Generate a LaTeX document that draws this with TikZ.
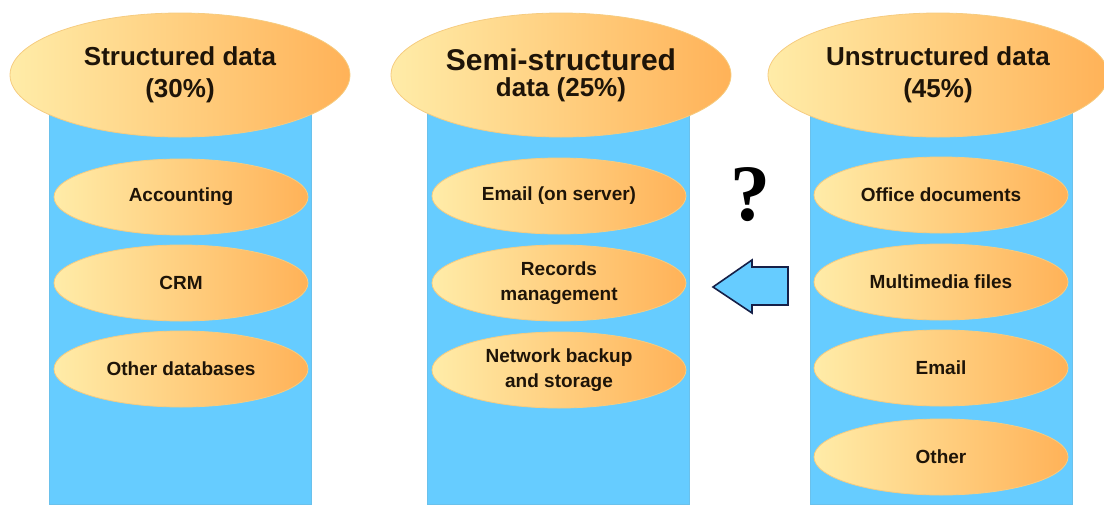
\documentclass[tikz,border=0pt]{standalone}
\usepackage{fontspec}
\setmainfont{Liberation Sans}
\newfontfamily\qfont{Liberation Serif}
\usetikzlibrary{shapes}

\definecolor{sky}{RGB}{102,204,255}
\definecolor{pale}{RGB}{255,236,168}
\definecolor{amber}{RGB}{255,178,88}
\definecolor{rim}{RGB}{246,204,128}
\definecolor{ink}{RGB}{30,20,8}
\definecolor{navy}{RGB}{22,32,72}

\begin{document}
\begin{tikzpicture}[x=1pt, y=-1pt, align=center, text=ink,
  col/.style={rectangle, fill=sky, draw=sky!85!gray, minimum width=262pt,
    minimum height=394pt, inner sep=0pt},
  head/.style={ellipse, left color=pale, right color=amber, draw=rim,
    line width=0.8pt, minimum width=340pt, minimum height=124pt, inner sep=0pt,
    font=\bfseries\fontsize{26}{32}\selectfont},
  item/.style={ellipse, left color=pale, right color=amber, draw=rim,
    line width=0.8pt, minimum width=254pt, minimum height=76pt, inner sep=0pt,
    font=\bfseries\fontsize{19}{25}\selectfont}]
\useasboundingbox (0,0) rectangle (1104,504);

% the three columns
\node[col] (c1) at (180,307) {};
\node[col] (c2) at (558,307) {};
\node[col] (c3) at (941,307) {};

\node[head] (h1) at (180,75) {Structured data\\(30\%)};
\node[head] (h2) at (561,75) {{\fontsize{30}{30}\selectfont Semi-structured}\\[-6pt]data (25\%)};
\node[head] (h3) at (938,75) {Unstructured data\\(45\%)};

% structured
\node[item] (11) at (181,197) {Accounting};
\node[item] (12) at (181,283) {CRM};
\node[item] (13) at (181,369) {Other databases};

% semi-structured
\node[item] (21) at (559,196) {Email (on server)};
\node[item] (22) at (559,283) {Records\\management};
\node[item] (23) at (559,370) {Network backup\\and storage};

% unstructured
\node[item] (31) at (941,195) {Office documents};
\node[item] (32) at (941,282) {Multimedia files};
\node[item] (33) at (941,368) {Email};
\node[item] (34) at (941,457) {Other};

\node[text=black, font=\qfont\bfseries\fontsize{80}{80}\selectfont] (q) at (750,195) {?};

% block arrow from unstructured to semi-structured
\filldraw[fill=sky, draw=navy, line width=1.6pt, line join=miter]
  (713,287) -- (752,260) -- (752,267) -- (788,267) -- (788,305)
  -- (752,305) -- (752,313) -- cycle;
\end{tikzpicture}
\end{document}
